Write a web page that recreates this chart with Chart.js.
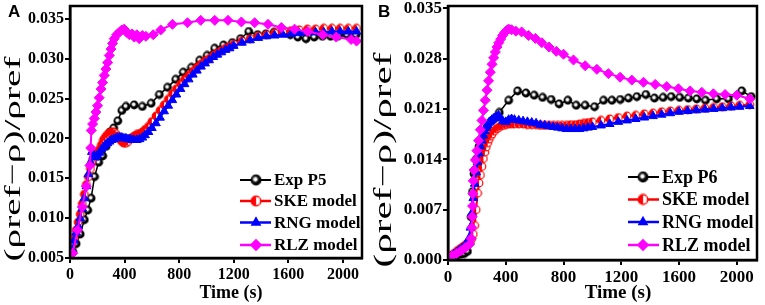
<!DOCTYPE html>
<html>
<head>
<meta charset="utf-8">
<script src="https://cdn.jsdelivr.net/npm/chart.js@4.4.0/dist/chart.umd.min.js"></script>
<style>
html, body { margin: 0; padding: 0; background: #fff; }
#wrapA { position: absolute; left: 0; top: 0; width: 370px; height: 305px; }
#wrapB { position: absolute; left: 370px; top: 0; width: 395px; height: 305px; }
</style>
</head>
<body>
<div id="wrapA"><canvas id="chartA" width="370" height="305"></canvas></div>
<div id="wrapB"><canvas id="chartB" width="395" height="305"></canvas></div>
<script>
// ---- data ----
const xTickValues = [0, 400, 800, 1200, 1600, 2000];
const yTickValuesA = [0.005, 0.010, 0.015, 0.020, 0.025, 0.030, 0.035];
const yTickValuesB = [0.000, 0.007, 0.014, 0.021, 0.028, 0.035];
const seriesLabelsA = ["Exp P5", "SKE model", "RNG model", "RLZ model"];
const seriesLabelsB = ["Exp P6", "SKE model", "RNG model", "RLZ model"];

// panel A
const timeExpA = [0,20,45,75,105,130,155,180,210,240,
  265,293,320,350,380,410,470,530,595,655,
  715,775,830,890,950,1005,1060,1125,1190,1250,
  1310,1375,1435,1495,1555,1615,1670,1730,1790,1850,
  1910,1970,2030,2095];
const expA = [0.0050,0.0058,0.0068,0.0080,0.0098,0.0110,0.0125,0.0152,0.0170,0.0178,
  0.0190,0.0208,0.0213,0.0222,0.0235,0.0240,0.0242,0.0240,0.0244,0.0255,
  0.0264,0.0274,0.0283,0.0289,0.0298,0.0304,0.0313,0.0317,0.0320,0.0325,
  0.0334,0.0330,0.0331,0.0333,0.0333,0.0330,0.0327,0.0325,0.0327,0.0328,
  0.0328,0.0329,0.0330,0.0330];
const timeModelA = [0,15,30,45,60,75,90,105,120,135,
  150,160,170,180,190,200,215,230,245,260,
  275,290,305,320,335,350,365,380,395,410,
  425,440,455,470,490,510,530,550,575,600,
  630,660,690,720,750,780,810,840,870,900,
  930,960,990,1020,1050,1080,1110,1140,1170,1200,
  1260,1320,1380,1440,1500,1560,1620,1680,1740,1800,
  1860,1920,1980,2040,2100];
const skeA = [0.0062,0.0068,0.0075,0.0085,0.0095,0.0105,0.0118,0.0130,0.0142,0.0152,
  0.0162,0.0170,0.0175,0.0178,0.0180,0.0182,0.0186,0.0192,0.0198,0.0202,
  0.0205,0.0207,0.0208,0.0208,0.0206,0.0203,0.0199,0.0196,0.0194,0.0194,
  0.0196,0.0199,0.0201,0.0203,0.0205,0.0206,0.0208,0.0211,0.0215,0.0221,
  0.0228,0.0235,0.0242,0.0249,0.0256,0.0262,0.0268,0.0274,0.0279,0.0284,
  0.0289,0.0293,0.0297,0.0300,0.0304,0.0307,0.0310,0.0313,0.0315,0.0318,
  0.0322,0.0325,0.0328,0.0330,0.0332,0.0333,0.0335,0.0336,0.0337,0.0337,
  0.0338,0.0338,0.0338,0.0338,0.0338];
const rngA = [0.0050,0.0060,0.0072,0.0082,0.0090,0.0100,0.0112,0.0125,0.0140,0.0155,
  0.0170,0.0183,0.0178,0.0176,0.0177,0.0179,0.0182,0.0186,0.0189,0.0192,
  0.0194,0.0196,0.0198,0.0199,0.0200,0.0201,0.0201,0.0201,0.0200,0.0200,
  0.0199,0.0199,0.0198,0.0198,0.0198,0.0199,0.0201,0.0204,0.0208,0.0213,
  0.0219,0.0226,0.0234,0.0241,0.0248,0.0255,0.0262,0.0268,0.0274,0.0280,
  0.0285,0.0290,0.0294,0.0298,0.0302,0.0305,0.0308,0.0311,0.0313,0.0316,
  0.0320,0.0323,0.0326,0.0328,0.0329,0.0330,0.0331,0.0332,0.0333,0.0333,
  0.0333,0.0334,0.0334,0.0334,0.0334];
const timeRlzA = [0,20,55,90,120,146,152,156,166,178,
  190,202,214,227,239,251,263,276,288,300,
  312,324,342,361,380,397,415,435,455,471,
  490,507,530,556,610,665,751,861,958,1061,
  1158,1256,1353,1451,1549,1646,1743,1853,1951,2060,2100];
const rlzA = [0.0050,0.0056,0.0085,0.0114,0.0140,0.0166,0.0188,0.0210,0.0218,0.0225,
  0.0233,0.0241,0.0251,0.0262,0.0270,0.0279,0.0287,0.0295,0.0304,0.0312,
  0.0319,0.0325,0.0330,0.0333,0.0336,0.0337,0.0333,0.0330,0.0331,0.0327,
  0.0330,0.0325,0.0329,0.0328,0.0330,0.0336,0.0343,0.0345,0.0348,0.0348,
  0.0348,0.0346,0.0345,0.0343,0.0339,0.0337,0.0334,0.0330,0.0327,0.0324,0.0322];

// panel B
const timeExpB = [0,30,60,90,113,135,150,160,170,180,
  195,215,240,270,300,330,355,420,482,540,
  597,655,715,770,830,888,950,1015,1077,1135,
  1193,1250,1308,1370,1430,1490,1546,1605,1665,1723,
  1783,1860,1942,2034,2100];
const expB = [0.0002,0.0004,0.0006,0.0008,0.0009,0.0012,0.0025,0.0060,0.0095,0.0120,
  0.0140,0.0158,0.0172,0.0185,0.0193,0.0198,0.0205,0.0222,0.0235,0.0232,
  0.0229,0.0226,0.0223,0.0217,0.0222,0.0215,0.0215,0.0213,0.0222,0.0222,
  0.0223,0.0225,0.0227,0.0230,0.0225,0.0226,0.0227,0.0226,0.0225,0.0224,
  0.0222,0.0224,0.0224,0.0235,0.0227];
const timeModelB = [0,20,40,60,80,100,120,135,145,155,
  165,175,185,195,205,215,225,235,245,255,
  265,275,285,295,305,320,335,350,365,380,
  400,420,440,460,490,520,550,580,610,640,
  670,700,730,760,790,820,850,880,910,940,
  970,1000,1060,1120,1180,1240,1300,1360,1420,1480,
  1540,1600,1660,1720,1780,1840,1900,1960,2020,2090];
const skeB = [0.0003,0.0006,0.0009,0.0012,0.0015,0.0018,0.0021,0.0023,0.0025,0.0027,
  0.0030,0.0036,0.0048,0.0070,0.0093,0.0107,0.0118,0.0130,0.0141,0.0150,
  0.0157,0.0163,0.0168,0.0172,0.0175,0.0179,0.0182,0.0184,0.0186,0.0187,
  0.0188,0.0189,0.0189,0.0189,0.0189,0.0189,0.0188,0.0188,0.0188,0.0187,
  0.0187,0.0187,0.0187,0.0187,0.0187,0.0187,0.0188,0.0188,0.0189,0.0190,
  0.0191,0.0192,0.0194,0.0196,0.0198,0.0200,0.0201,0.0203,0.0204,0.0206,
  0.0207,0.0208,0.0209,0.0210,0.0211,0.0212,0.0213,0.0214,0.0215,0.0216];
const rngB = [0.0002,0.0005,0.0008,0.0011,0.0014,0.0017,0.0020,0.0023,0.0030,0.0045,
  0.0065,0.0086,0.0106,0.0122,0.0136,0.0148,0.0158,0.0166,0.0173,0.0179,
  0.0184,0.0188,0.0191,0.0193,0.0195,0.0197,0.0199,0.0201,0.0197,0.0193,
  0.0192,0.0195,0.0196,0.0195,0.0194,0.0193,0.0192,0.0191,0.0190,0.0188,
  0.0187,0.0186,0.0185,0.0184,0.0183,0.0182,0.0182,0.0182,0.0182,0.0183,
  0.0184,0.0185,0.0187,0.0189,0.0192,0.0194,0.0196,0.0198,0.0200,0.0202,
  0.0204,0.0206,0.0207,0.0208,0.0209,0.0210,0.0211,0.0212,0.0213,0.0214];
const timeRlzB = [0,30,60,90,120,150,160,165,168,170,
  172,175,180,190,200,212,224,235,246,258,
  270,281,293,305,316,328,339,352,365,378,
  392,406,420,440,470,510,558,605,650,700,
  750,800,869,950,1031,1111,1192,1273,1354,1435,
  1515,1596,1677,1758,1838,1919,2000,2090];
const rlzB = [0.0003,0.0006,0.0009,0.0013,0.0017,0.0022,0.0030,0.0045,0.0060,0.0075,
  0.0092,0.0110,0.0125,0.0139,0.0152,0.0166,0.0181,0.0194,0.0208,0.0222,
  0.0236,0.0249,0.0261,0.0272,0.0281,0.0289,0.0296,0.0302,0.0307,0.0312,
  0.0316,0.0319,0.0321,0.0320,0.0318,0.0317,0.0312,0.0308,0.0302,0.0296,
  0.0290,0.0286,0.0278,0.0270,0.0265,0.0259,0.0254,0.0250,0.0247,0.0244,
  0.0241,0.0238,0.0235,0.0233,0.0231,0.0230,0.0229,0.0224];

const yTitle = "(\u03C1ref\u2212\u03C1)/\u03C1ref";
const serif = '"Liberation Serif", "Times New Roman", serif';

// ---- marker images ----
function makeBall() {
  const c = document.createElement("canvas");
  c.width = 10; c.height = 10;
  const g = c.getContext("2d");
  g.fillStyle = "#000";
  g.beginPath(); g.arc(5, 5, 4.4, 0, Math.PI * 2); g.fill();
  const grad = g.createRadialGradient(4.5, 4.4, 0, 4.5, 4.4, 2.6);
  grad.addColorStop(0, "rgba(255,255,255,1)");
  grad.addColorStop(0.45, "rgba(255,255,255,0.95)");
  grad.addColorStop(1, "rgba(255,255,255,0)");
  g.fillStyle = grad;
  g.beginPath(); g.arc(4.5, 4.4, 2.6, 0, Math.PI * 2); g.fill();
  return c;
}
function makeHalf() {
  const c = document.createElement("canvas");
  c.width = 10; c.height = 10;
  const g = c.getContext("2d");
  g.fillStyle = "#fff";
  g.beginPath(); g.arc(5, 5, 3.8, 0, Math.PI * 2); g.fill();
  g.fillStyle = "#ff0000";
  g.beginPath(); g.arc(5, 5, 3.8, Math.PI / 2, Math.PI * 1.5); g.closePath(); g.fill();
  g.strokeStyle = "#ff0000"; g.lineWidth = 1.2;
  g.beginPath(); g.arc(5, 5, 3.8, 0, Math.PI * 2); g.stroke();
  return c;
}
const ballImg = makeBall();
const halfImg = makeHalf();

function pts(times, vals) {
  return times.map((t, i) => ({ x: t, y: vals[i] }));
}

function drawMarker(ctx, ds, x, y, k) {
  const st = ds.pointStyle;
  if (typeof st !== "string") {
    ctx.drawImage(st, x - st.width * k / 2, y - st.height * k / 2, st.width * k, st.height * k);
    return;
  }
  const r = ds.pointRadius * k;
  ctx.fillStyle = ds.pointBackgroundColor;
  ctx.beginPath();
  if (st === "triangle") {
    ctx.moveTo(x, y - r);
    ctx.lineTo(x + r * 0.866, y + r * 0.5);
    ctx.lineTo(x - r * 0.866, y + r * 0.5);
  } else {
    ctx.moveTo(x - r, y); ctx.lineTo(x, y - r); ctx.lineTo(x + r, y); ctx.lineTo(x, y + r);
  }
  ctx.closePath();
  ctx.fill();
}

const panelDecor = {
  id: "panelDecor",
  afterDraw(chart, args, o) {
    const ctx = chart.ctx, a = chart.chartArea;
    ctx.save();
    ctx.lineWidth = 2.5;
    ctx.strokeStyle = "#000";
    ctx.strokeRect(a.left, a.top, a.right - a.left, a.bottom - a.top);

    ctx.fillStyle = "#000";
    ctx.font = 'bold 17px "Liberation Sans", Arial, sans-serif';
    ctx.textAlign = "left"; ctx.textBaseline = "top";
    ctx.fillText(o.letter, o.letterX, o.letterY);

    ctx.font = "bold " + o.xTitleSize + "px " + serif;
    ctx.textAlign = "center"; ctx.textBaseline = "middle";
    ctx.fillText("Time (s)", o.xTitleX, o.xTitleY);

    // legend inside the plot
    const dsets = chart.data.datasets;
    ctx.font = "bold " + o.legSize + "px " + serif;
    for (let i = 0; i < dsets.length; i++) {
      const ds = dsets[i], y = o.legRows[i];
      ctx.strokeStyle = ds.borderColor;
      ctx.lineWidth = ds.borderWidth + 0.5;
      ctx.beginPath(); ctx.moveTo(o.legX0, y); ctx.lineTo(o.legX1, y); ctx.stroke();
      drawMarker(ctx, ds, o.legMark, y, 1.25);
      ctx.fillStyle = "#000";
      ctx.textAlign = "left";
      ctx.fillText(ds.label, o.legText, y + 1);
    }

    // stretched y title
    ctx.font = o.yTitleSize + "px " + serif;
    const w = ctx.measureText(yTitle).width;
    ctx.translate(o.yTitleX, o.yTitleY);
    ctx.rotate(-Math.PI / 2);
    ctx.scale(o.yTitleLen / w, 1);
    ctx.textAlign = "center";
    ctx.fillText(yTitle, 0, 0);
    ctx.restore();
  }
};

function makePanel(id, p) {
  const tickFont = { family: serif, size: p.tickSize, weight: "bold" };
  new Chart(document.getElementById(id), {
    type: "line",
    data: {
      datasets: [
        { label: p.labels[0], data: pts(p.tExp, p.exp), borderColor: "#000", borderWidth: 1.5,
          pointStyle: ballImg, pointRadius: 4, order: 4 },
        { label: p.labels[1], data: pts(p.tModel, p.ske), borderColor: "#ff0000", borderWidth: 2,
          pointStyle: halfImg, pointRadius: 4, order: 3 },
        { label: p.labels[2], data: pts(p.tModel, p.rng), borderColor: "#0000ff", borderWidth: 2,
          pointStyle: "triangle", pointRadius: 5, pointBackgroundColor: "#0000ff",
          pointBorderColor: "#0000ff", pointBorderWidth: 1, order: 2 },
        { label: p.labels[3], data: pts(p.tRlz, p.rlz), borderColor: "#ff00ff", borderWidth: 2,
          pointStyle: "rectRot", pointRadius: 5, pointBackgroundColor: "#ff00ff",
          pointBorderColor: "#ff00ff", pointBorderWidth: 1, order: 1 }
      ]
    },
    options: {
      responsive: false,
      animation: false,
      events: [],
      layout: { padding: { left: 0, right: p.padRight, top: 5, bottom: 0 } },
      elements: { line: { tension: 0 } },
      plugins: {
        legend: { display: false },
        tooltip: { enabled: false },
        panelDecor: p.decor
      },
      scales: {
        x: {
          type: "linear", min: 0, max: 2140,
          afterBuildTicks: s => { s.ticks = xTickValues.map(v => ({ value: v })); },
          afterFit: s => { s.height = p.xAxisH; s.paddingLeft = 0; s.paddingRight = 0; },
          grid: { drawOnChartArea: false, drawTicks: true, tickLength: 5, lineWidth: 2, color: "#000" },
          border: { display: true, color: "#000", width: 2.5 },
          ticks: { color: "#000", font: tickFont, padding: 2, maxRotation: 0, callback: v => String(v) }
        },
        y: {
          type: "linear", min: p.yMin, max: p.yMax,
          afterBuildTicks: s => { s.ticks = p.yTicks.map(v => ({ value: v })); },
          afterFit: s => { s.width = p.yAxisW; s.paddingTop = 0; s.paddingBottom = 0; },
          grid: { drawOnChartArea: false, drawTicks: true, tickLength: 5, lineWidth: 2, color: "#000" },
          border: { display: true, color: "#000", width: 2.5 },
          ticks: { color: "#000", font: tickFont, padding: 1, callback: v => v.toFixed(3) }
        }
      }
    },
    plugins: [panelDecor]
  });
}

makePanel("chartA", {
  labels: seriesLabelsA,
  tExp: timeExpA, exp: expA, tModel: timeModelA, ske: skeA, rng: rngA, tRlz: timeRlzA, rlz: rlzA,
  yMin: 0.005, yMax: 0.0366, yTicks: yTickValuesA,
  tickSize: 16, yAxisW: 70, xAxisH: 47, padRight: 8,
  decor: { letter: "A", letterX: 8, letterY: 4, xTitleX: 231, xTitleY: 293, xTitleSize: 18,
    yTitleX: 14, yTitleY: 159, yTitleLen: 205, yTitleSize: 24,
    legX0: 240, legX1: 271, legMark: 256, legText: 274, legSize: 17,
    legRows: [180, 201, 222.5, 245] }
});

makePanel("chartB", {
  labels: seriesLabelsB,
  tExp: timeExpB, exp: expB, tModel: timeModelB, ske: skeB, rng: rngB, tRlz: timeRlzB, rlz: rlzB,
  yMin: 0, yMax: 0.0353, yTicks: yTickValuesB,
  tickSize: 17, yAxisW: 78, xAxisH: 45, padRight: 8,
  decor: { letter: "B", letterX: 8, letterY: 4, xTitleX: 248, xTitleY: 293, xTitleSize: 19,
    yTitleX: 14, yTitleY: 160, yTitleLen: 215, yTitleSize: 25,
    legX0: 258, legX1: 289, legMark: 273, legText: 292, legSize: 18,
    legRows: [177, 199.5, 222, 245] }
});
</script>
</body>
</html>
